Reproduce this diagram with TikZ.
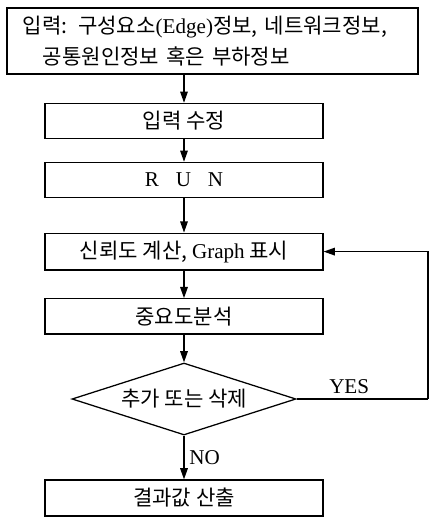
\documentclass[tikz,border=0pt]{standalone}
\usepackage{fontspec}
\setmainfont{Liberation Serif}
\newfontfamily\kr{Noto Sans CJK KR}
\usetikzlibrary{arrows.meta}
\usetikzlibrary{positioning}
\usetikzlibrary{shapes.geometric}

\begin{document}
\begin{tikzpicture}[line width=0.9pt, font=\fontsize{15}{19}\selectfont,
    box/.style={draw, rectangle, minimum width=6.95cm, minimum height=0.88cm, inner sep=0pt},
    decision/.style={draw, diamond, aspect=3.11, minimum width=5.6cm, minimum height=1.8cm, inner sep=0pt},
    flow/.style={-{Triangle[length=2.8mm,width=1.9mm]}}
    ]
\useasboundingbox (0,0) rectangle (10.75,-12.925);

\edef\cx{4.6}

\node[draw, rectangle, minimum width=10.275cm, minimum height=1.65cm, inner xsep=0.4cm, text width=9.475cm, align=left, font=\fontsize{15}{21.5}\selectfont] (input) at (5.31,-1.025)
  {{\kr 입력: 구성요소}(Edge){\kr 정보, 네트워크정보,}\\ \hspace*{0.5cm}{\kr 공통원인정보 혹은 부하정보}};

\node[box] (edit) at (\cx,-3.025) {\kr 입력 수정};
\node[box] (run) at (\cx,-4.5) {R\hspace{0.8em}U\hspace{0.8em}N};
\node[box, minimum height=0.92cm] (calc) at (\cx,-6.29) {{\kr 신뢰도 계산, }Graph{\kr\ 표시}};
\node[box] (analysis) at (\cx,-7.91) {\kr 중요도분석};
\node[decision] (choice) at (\cx,-9.975) {\kr 추가 또는 삭제};
\node[box, minimum height=0.9cm] (result) at (\cx,-12.45) {\kr 결과값 산출};

\coordinate (loop) at (10.7,-9.975);

% main flow
\draw[flow] (input.south -| edit.north) -- (edit.north);
\draw[flow] (edit) -- (run);
\draw[flow] (run) -- (calc);
\draw[flow] (calc) -- (analysis);
\draw[flow] (analysis) -- (choice);
\draw[flow] (choice) -- (result) node [midway, right] {NO};

% feedback
\draw (choice.east) -- (loop) node [pos=0.4, above] {YES};
\draw[flow] (loop) |- (calc.east);
\end{tikzpicture}
\end{document}
